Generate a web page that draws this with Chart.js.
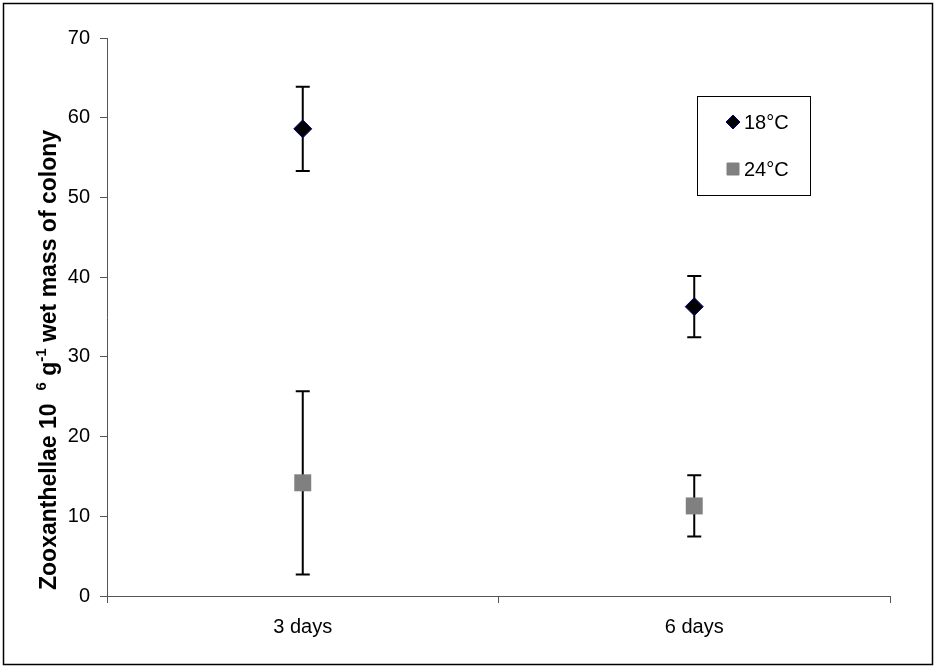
<!DOCTYPE html>
<html>
<head>
<meta charset="utf-8">
<script src="https://cdn.jsdelivr.net/npm/chart.js@4/dist/chart.umd.min.js"></script>
<style>
  body { margin: 0; background: #fff; }
  canvas { display: block; }
</style>
</head>
<body>
<canvas id="myChart" width="936" height="668"></canvas>
<script>
// Datos
const categories = ['3 days', '6 days'];
const seriesNames = ['18°C', '24°C'];
const mean18 = [58.6, 36.3];
const err18 = [5.3, 3.85];
const mean24 = [14.2, 11.3];
const err24 = [11.5, 3.85];
const yTicks = [0, 10, 20, 30, 40, 50, 60, 70];

const FONT = "'Liberation Sans', Arial, sans-serif";

// Barras de error (se dibujan detrás de los marcadores)
const errorBars = {
    id: 'errorBars',
    beforeDatasetsDraw(chart) {
        const ctx = chart.ctx;
        const y = chart.scales.y;
        ctx.save();
        ctx.strokeStyle = '#000';
        ctx.lineWidth = 2;
        chart.data.datasets.forEach((ds, i) => {
            const meta = chart.getDatasetMeta(i);
            meta.data.forEach((pt, j) => {
                const top = y.getPixelForValue(ds.data[j] + ds.errors[j]);
                const bot = y.getPixelForValue(ds.data[j] - ds.errors[j]);
                ctx.beginPath();
                ctx.moveTo(pt.x, top); ctx.lineTo(pt.x, bot);
                ctx.moveTo(pt.x - 7, top); ctx.lineTo(pt.x + 7, top);
                ctx.moveTo(pt.x - 7, bot); ctx.lineTo(pt.x + 7, bot);
                ctx.stroke();
            });
        });
        ctx.restore();
    }
};

// Marco, leyenda y título del eje Y
const extras = {
    id: 'extras',
    afterDraw(chart) {
        const ctx = chart.ctx;
        ctx.save();
        // marco exterior
        ctx.strokeStyle = '#000';
        ctx.lineWidth = 1.5;
        ctx.strokeRect(3.5, 3.5, 929, 661);

        // leyenda
        ctx.lineWidth = 1;
        ctx.strokeStyle = '#000';
        ctx.strokeRect(697.5, 96.5, 113, 99);
        ctx.font = '20px ' + FONT;
        ctx.textBaseline = 'middle';
        const rows = [122, 169];
        chart.data.datasets.forEach((ds, i) => {
            ctx.fillStyle = ds.backgroundColor;
            ctx.strokeStyle = ds.borderColor;
            ctx.lineWidth = 1;
            ctx.beginPath();
            if (i === 0) {
                ctx.moveTo(733, rows[i] - 7); ctx.lineTo(740, rows[i]);
                ctx.lineTo(733, rows[i] + 7); ctx.lineTo(726, rows[i]);
                ctx.closePath();
            } else {
                ctx.rect(727, rows[i] - 6, 12, 12);
            }
            ctx.fill(); ctx.stroke();
            ctx.fillStyle = '#000';
            ctx.fillText(ds.label, 744, rows[i] + 1);
        });

        // título del eje Y con superíndices
        ctx.translate(56, 590);
        ctx.rotate(-Math.PI / 2);
        ctx.textBaseline = 'alphabetic';
        ctx.fillStyle = '#000';
        const parts = [
            ['Zooxanthellae 10  ', false],
            ['6', true],
            [' g', false],
            ['-1', true],
            [' wet mass of colony', false]
        ];
        let x = 0;
        parts.forEach(([t, sup]) => {
            ctx.font = (sup ? 'bold 15px ' : 'bold 23px ') + FONT;
            ctx.fillText(t, x, sup ? -10 : 0);
            x += ctx.measureText(t).width;
        });
        ctx.restore();
    }
};

const ctx = document.getElementById('myChart').getContext('2d');
new Chart(ctx, {
    type: 'line',
    data: {
        labels: categories,
        datasets: [{
            label: seriesNames[0],
            data: mean18,
            errors: err18,
            showLine: false,
            pointStyle: 'rectRot',
            pointRadius: 9,
            pointHoverRadius: 9,
            backgroundColor: '#000',
            borderColor: '#000080',
            pointBorderWidth: 1
        }, {
            label: seriesNames[1],
            data: mean24,
            errors: err24,
            showLine: false,
            pointStyle: 'rect',
            pointRadius: 12,
            pointHoverRadius: 12,
            backgroundColor: '#808080',
            borderColor: '#808080',
            pointBorderWidth: 0
        }]
    },
    options: {
        responsive: false,
        animation: false,
        events: [],
        layout: { padding: { left: 0, top: 38, right: 46, bottom: 0 } },
        plugins: {
            legend: { display: false },
            tooltip: { enabled: false }
        },
        scales: {
            x: {
                type: 'category',
                offset: true,
                grid: {
                    offset: true,
                    drawOnChartArea: false,
                    drawTicks: true,
                    tickLength: 7,
                    color: '#555'
                },
                border: { display: true, color: '#555', width: 1 },
                ticks: {
                    color: '#000',
                    font: { family: FONT, size: 20 },
                    padding: 12
                },
                afterFit(scale) { scale.height = 72; }
            },
            y: {
                min: 0,
                max: 70,
                grid: {
                    drawOnChartArea: false,
                    drawTicks: true,
                    tickLength: 7,
                    color: '#555'
                },
                border: { display: true, color: '#555', width: 1 },
                afterBuildTicks(scale) {
                    scale.ticks = yTicks.map(v => ({ value: v }));
                },
                ticks: {
                    color: '#000',
                    font: { family: FONT, size: 20 },
                    padding: 10
                },
                afterFit(scale) { scale.width = 107; }
            }
        }
    },
    plugins: [errorBars, extras]
});
</script>
</body>
</html>
